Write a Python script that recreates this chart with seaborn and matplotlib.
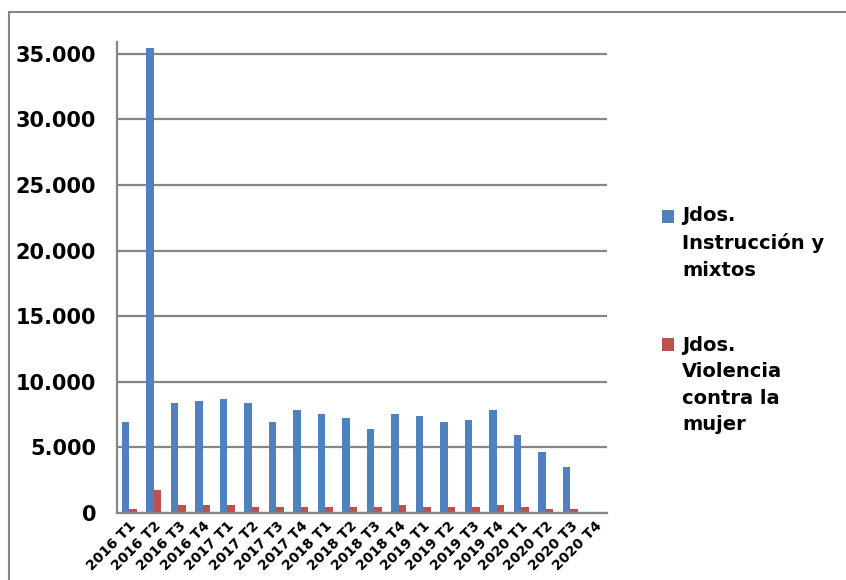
import pandas as pd
import matplotlib
matplotlib.use("Agg")
import matplotlib.pyplot as plt
import seaborn as sns
from matplotlib.ticker import FuncFormatter, FixedLocator
from matplotlib.patches import Rectangle
from matplotlib.legend_handler import HandlerPatch

# periodos (trimestres)
periodos = ["2016 T1", "2016 T2", "2016 T3", "2016 T4",
            "2017 T1", "2017 T2", "2017 T3", "2017 T4",
            "2018 T1", "2018 T2", "2018 T3", "2018 T4",
            "2019 T1", "2019 T2", "2019 T3", "2019 T4",
            "2020 T1", "2020 T2", "2020 T3", "2020 T4"]

instruccion = [6900, 35450, 8360, 8540, 8690, 8360, 6900, 7860,
               7550, 7220, 6410, 7550, 7400, 6900, 7070, 7860,
               5930, 4650, 3510, 0]
violencia = [280, 1740, 580, 580, 580, 430, 430, 430,
             430, 430, 430, 580, 430, 430, 430, 580,
             430, 280, 280, 0]

series = ["Jdos.\nInstrucción y\nmixtos", "Jdos.\nViolencia\ncontra la\nmujer"]
colores = ["#4F81BD", "#C0504D"]

df = pd.DataFrame({
    "periodo": periodos * 2,
    "valor": instruccion + violencia,
    "serie": [series[0]] * len(periodos) + [series[1]] * len(periodos),
})

sns.set_style("white")
plt.rcParams['font.family'] = ['DejaVu Sans']
plt.rcParams['text.color'] = 'black'
plt.rcParams['xtick.color'] = 'black'
plt.rcParams['ytick.color'] = 'black'

fig = plt.figure(figsize=(8.46, 5.8), dpi=100)
ax = fig.add_axes([0.1383, 0.1155, 0.5792, 0.812])

sns.barplot(data=df, x="periodo", y="valor", hue="serie", palette=colores,
            width=0.6, saturation=1, ax=ax, errorbar=None, linewidth=0)

gris = "#868686"
ax.set_ylim(0, 35900)
ax.set_xlim(-0.5, len(periodos) - 0.5)
ax.yaxis.set_major_locator(FixedLocator(range(0, 35001, 5000)))
ax.yaxis.set_major_formatter(FuncFormatter(lambda v, p: f"{int(v):,}".replace(",", ".")))
ax.grid(axis="y", color=gris, linewidth=1.6)
ax.set_axisbelow(True)
for s in ["top", "right"]:
    ax.spines[s].set_visible(False)
for s in ["left", "bottom"]:
    ax.spines[s].set_color(gris)
    ax.spines[s].set_linewidth(1.6)

ax.tick_params(axis="y", length=7, width=1.6, color=gris, labelsize=15,
               labelcolor="black", pad=8)
for t in ax.get_yticklabels():
    t.set_fontweight("bold")

# marcas del eje x en los limites de categoria
ax.set_xticks([i - 0.5 for i in range(len(periodos) + 1)], minor=True)
ax.tick_params(axis="x", which="minor", length=6, width=1.6, color=gris)
ax.tick_params(axis="x", which="major", length=0, labelsize=10,
               labelcolor="black", pad=4)
ax.set_xticklabels(periodos, rotation=45, ha="right", rotation_mode="anchor",
                   fontweight="bold")

ax.set_xlabel("")
ax.set_ylabel("")

# leyenda: cuadrado alineado con la primera linea del texto
fs_leg = 14
interlinea = 1.5
paso = 0.936 * fs_leg * interlinea


def cuadro_arriba(nlineas):
    desp = (nlineas - 1) / 2 * paso

    def f(legend, orig_handle, xdescent, ydescent, width, height, fontsize):
        return Rectangle((-xdescent, -ydescent + desp), width, height)
    return HandlerPatch(patch_func=f)


handles, labels = ax.get_legend_handles_labels()
mapa = {h: cuadro_arriba(l.count("\n") + 1) for h, l in zip(handles, labels)}
leg = ax.legend(handles, labels, handler_map=mapa, loc="upper left",
                bbox_to_anchor=(1.076, 0.688), frameon=False,
                prop={"size": fs_leg, "weight": "bold"}, labelspacing=2.87,
                handlelength=0.65, handleheight=0.65, handletextpad=0.4)
for t in leg.get_texts():
    t.set_linespacing(interlinea)

# marco exterior del grafico
fig.patches.append(Rectangle((0.011, -0.05), 1.1, 1.029, transform=fig.transFigure,
                             fill=False, edgecolor=gris, linewidth=1.5))

fig.savefig("out.png", dpi=100)
